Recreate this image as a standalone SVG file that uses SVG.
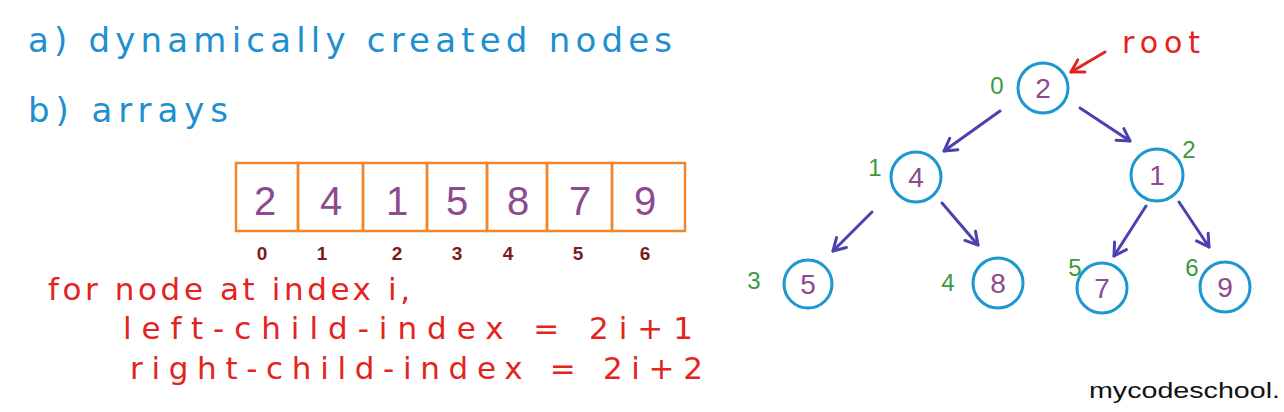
<svg xmlns="http://www.w3.org/2000/svg" width="1284" height="412" viewBox="0 0 1284 412">
<style>
text{font-family:"Liberation Sans","DejaVu Sans",sans-serif;}
.hand{font-family:"DejaVu Sans","Liberation Sans",sans-serif;}
.blue{fill:#1f8fcf;font-size:34px;}
.red{fill:#e4231e;font-size:31px;}
.cell{fill:none;stroke:#f0862e;stroke-width:2.5;}
.val{fill:#8c4a90;font-size:40px;text-anchor:middle;}
.idx{fill:#7a1c1c;font-size:19px;font-weight:bold;text-anchor:middle;}
.node{fill:#ffffff;stroke:#1c98d0;stroke-width:3;}
.nval{fill:#8c4a90;font-size:28px;text-anchor:middle;}
.nlab{fill:#3a9a3e;font-size:24px;text-anchor:middle;}
.edge{stroke:#4b42b0;stroke-width:3;fill:none;stroke-linecap:round;}
.redarrow{stroke:#e4231e;stroke-width:3;fill:none;stroke-linecap:round;}
</style>
<defs>
<marker id="ah" markerUnits="userSpaceOnUse" viewBox="-14 -10 18 20" refX="0" refY="0" markerWidth="18" markerHeight="20" orient="auto">
<path d="M -12 -7 L 0 0 L -12 7" fill="none" stroke="#4b42b0" stroke-width="3" stroke-linecap="round" stroke-linejoin="round"/>
</marker>
<marker id="ahr" markerUnits="userSpaceOnUse" viewBox="-14 -10 18 20" refX="0" refY="0" markerWidth="18" markerHeight="20" orient="auto">
<path d="M -12 -7 L 0 0 L -12 7" fill="none" stroke="#e4231e" stroke-width="3" stroke-linecap="round" stroke-linejoin="round"/>
</marker>
</defs>
<rect width="1284" height="412" fill="#ffffff"/>

<g id="text-left">
<text class="blue hand" x="28" y="52" textLength="644" lengthAdjust="spacing">a) dynamically created nodes</text>
<text class="blue hand" x="28" y="122" textLength="200" lengthAdjust="spacing">b) arrays</text>
<text class="red hand" x="48" y="300" textLength="362" lengthAdjust="spacing">for node at index i,</text>
<text class="red hand" x="123" y="339" textLength="570" lengthAdjust="spacing">left-child-index = 2i+1</text>
<text class="red hand" x="130" y="379" textLength="573" lengthAdjust="spacing">right-child-index = 2i+2</text>
</g>

<g id="array">
<rect class="cell" x="236" y="163" width="62" height="68"/>
<rect class="cell" x="298" y="163" width="65" height="68"/>
<rect class="cell" x="363" y="163" width="64" height="68"/>
<rect class="cell" x="427" y="163" width="60" height="68"/>
<rect class="cell" x="487" y="163" width="60" height="68"/>
<rect class="cell" x="547" y="163" width="65" height="68"/>
<rect class="cell" x="612" y="163" width="73" height="68"/>
<text class="val" x="265" y="215">2</text>
<text class="val" x="331" y="215">4</text>
<text class="val" x="397" y="215">1</text>
<text class="val" x="457" y="215">5</text>
<text class="val" x="518" y="215">8</text>
<text class="val" x="580" y="215">7</text>
<text class="val" x="645" y="215">9</text>
<text class="idx" x="262" y="260">0</text>
<text class="idx" x="322" y="260">1</text>
<text class="idx" x="397" y="260">2</text>
<text class="idx" x="457" y="260">3</text>
<text class="idx" x="508" y="260">4</text>
<text class="idx" x="578" y="260">5</text>
<text class="idx" x="645" y="260">6</text>
</g>

<g id="connectors">
<line class="redarrow" x1="1105" y1="52" x2="1071" y2="72" marker-end="url(#ahr)"/>
<line class="edge" x1="1000" y1="111" x2="944" y2="151" marker-end="url(#ah)"/>
<line class="edge" x1="1080" y1="108" x2="1130" y2="141" marker-end="url(#ah)"/>
<line class="edge" x1="872" y1="212" x2="833" y2="251" marker-end="url(#ah)"/>
<line class="edge" x1="942" y1="203" x2="978" y2="245" marker-end="url(#ah)"/>
<line class="edge" x1="1146" y1="206" x2="1114" y2="256" marker-end="url(#ah)"/>
<line class="edge" x1="1179" y1="202" x2="1209" y2="247" marker-end="url(#ah)"/>
</g>

<g id="root-label"><text class="hand" x="1122" y="53" fill="#e4231e" font-size="30" textLength="78" lengthAdjust="spacing">root</text></g>

<g id="node0"><circle class="node" cx="1043" cy="88" r="25"/><text class="nval" x="1043" y="98">2</text><text class="nlab" x="997" y="94">0</text></g>
<g id="node1"><circle class="node" cx="916" cy="177" r="25"/><text class="nval" x="916" y="187">4</text><text class="nlab" x="875" y="176">1</text></g>
<g id="node2"><circle class="node" cx="1157" cy="175" r="26"/><text class="nval" x="1157" y="185">1</text><text class="nlab" x="1189" y="158">2</text></g>
<g id="node3"><circle class="node" cx="808" cy="284" r="24"/><text class="nval" x="808" y="294">5</text><text class="nlab" x="754" y="289">3</text></g>
<g id="node4"><circle class="node" cx="998" cy="283" r="25"/><text class="nval" x="998" y="293">8</text><text class="nlab" x="948" y="291">4</text></g>
<g id="node5"><circle class="node" cx="1102" cy="288" r="25"/><text class="nval" x="1102" y="298">7</text><text class="nlab" x="1075" y="276">5</text></g>
<g id="node6"><circle class="node" cx="1225" cy="287" r="25"/><text class="nval" x="1225" y="297">9</text><text class="nlab" x="1192" y="276">6</text></g>

<g id="watermark"><text x="1089" y="398" fill="#111111" font-size="22" textLength="191" lengthAdjust="spacingAndGlyphs">mycodeschool.</text></g>
</svg>
